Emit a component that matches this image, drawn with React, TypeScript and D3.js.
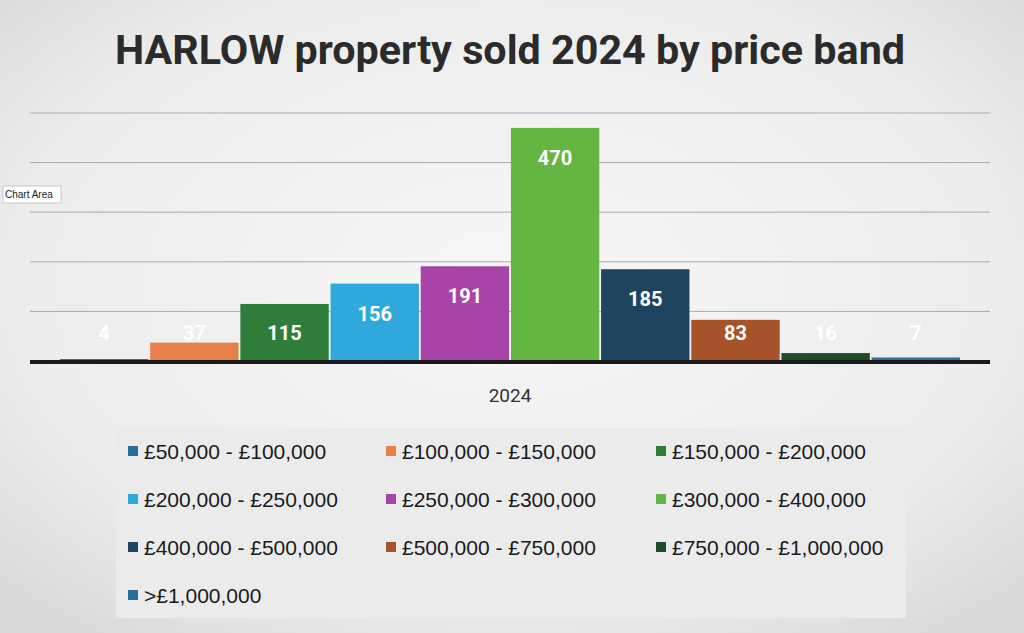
import React from "react";
import * as d3 from "d3";

const bands = ["£50,000 - £100,000","£100,000 - £150,000","£150,000 - £200,000","£200,000 - £250,000","£250,000 - £300,000","£300,000 - £400,000","£400,000 - £500,000","£500,000 - £750,000","£750,000 - £1,000,000",">£1,000,000"];
const values = [4,37,115,156,191,470,185,83,16,7];
const colors = ["#2a6f97","#e8804a","#2f7d3b","#2fa8dc","#a843a8","#65b543","#1e4460","#a6532a","#1f4d2a","#2a6f97"];
const gridTicks = [100,200,300,400,500];

export default function App() {
  const W = 1024, H = 633;
  const x = d3.scaleBand<number>().domain(d3.range(bands.length)).range([60, 960]).paddingInner(0.02);
  const y = d3.scaleLinear().domain([0, 500]).range([361, 113]);
  const legendCols = [128, 386, 656];
  return (
    <svg width={W} height={H} style={{ position: "absolute", left: 0, top: 0 }}>
      <defs>
        <radialGradient id="bg" cx="50%" cy="45%" r="70%">
          <stop offset="0%" stopColor="#f7f7f7" />
          <stop offset="70%" stopColor="#ececec" />
          <stop offset="100%" stopColor="#d9d9d9" />
        </radialGradient>
      </defs>
      <rect width={W} height={H} fill="url(#bg)" />
      <text x={510} y={64} textAnchor="middle" textLength={790} lengthAdjust="spacingAndGlyphs" fontFamily="Roboto, 'Open Sans', sans-serif" fontWeight={700} fontSize={40} fill="#2b2b2b">HARLOW property sold 2024 by price band</text>
      {gridTicks.map(t => (
        <line key={t} x1={30} x2={990} y1={y(t)} y2={y(t)} stroke="#a8a8a8" strokeWidth={1} />
      ))}
      {values.map((v, i) => (
        <rect key={i} x={x(i)} y={y(v)} width={x.bandwidth()} height={y(0) - y(v)} fill={colors[i]} />
      ))}
      <line x1={30} x2={990} y1={362} y2={362} stroke="#1a1a1a" strokeWidth={4} />
      {values.map((v, i) => (
        <text key={i} x={(x(i) as number) + x.bandwidth() / 2} y={Math.min(y(v) + 37, 340)} textAnchor="middle" fontFamily="Roboto, Arial, sans-serif" fontWeight={700} fontSize={20} fill="#ffffff">{v}</text>
      ))}
      <text x={510} y={402} textAnchor="middle" fontFamily="Roboto, Arial, sans-serif" fontSize={19} fill="#333">2024</text>
      <rect x={3} y={186} width={58} height={17} fill="#fff" stroke="#999" strokeWidth={0.5} />
      <text x={5} y={198} fontFamily="Arial, sans-serif" fontSize={10} fill="#222">Chart Area</text>
      <rect x={116} y={428} width={790} height={190} fill="#ebebeb" />
      {bands.map((b, i) => {
        const cx = legendCols[i % 3];
        const cy = 451 + Math.floor(i / 3) * 48;
        return (
          <g key={i}>
            <rect x={cx} y={cy - 5} width={10} height={10} fill={colors[i]} />
            <text x={cx + 16} y={cy + 8} fontFamily="'Liberation Sans', Arial, sans-serif" fontSize={21} fill="#1a1a1a">{b}</text>
          </g>
        );
      })}
    </svg>
  );
}
